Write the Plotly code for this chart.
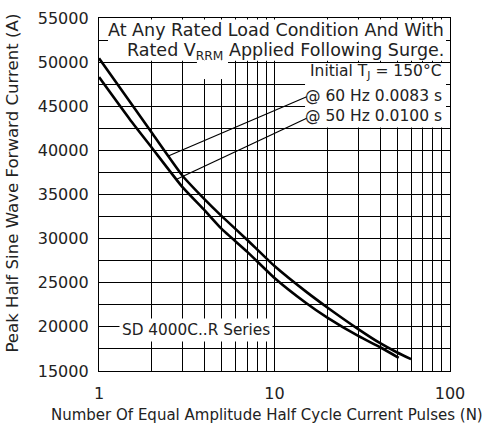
import plotly.graph_objects as go

# ---- data ----
n_60hz = [1, 1.5, 2, 3, 4, 5, 7, 10, 15, 20, 30, 40, 50, 60]
i_60hz = [50430, 45500, 42000, 37100, 34450, 32550, 29850, 26900, 24050, 22200, 19750, 18150, 17100, 16350]

n_50hz = [1, 1.5, 2, 3, 4, 5, 7, 10, 15, 20, 30, 40, 51]
i_50hz = [48300, 43500, 40300, 35800, 33200, 31100, 28500, 25550, 22770, 21050, 18970, 17690, 16500]

x_ticks = [1, 10, 100]
x_minor = [2, 3, 4, 5, 6, 7, 8, 9, 20, 30, 40, 50, 60, 70, 80, 90]
y_ticks = [15000, 20000, 25000, 30000, 35000, 40000, 45000, 50000, 55000]

FONT = "DejaVu Sans"
TXT = "#222"

fig = go.Figure()
for xs, ys in [(n_60hz, i_60hz), (n_50hz, i_50hz)]:
    fig.add_trace(go.Scatter(x=xs, y=ys, mode="lines",
                             line=dict(color="black", width=2.6, shape="spline", smoothing=0.5),
                             showlegend=False, hoverinfo="skip"))

grid = dict(showgrid=True, gridcolor="black", gridwidth=1.3)
fig.update_xaxes(type="log", range=[0, 2], tickvals=x_ticks, ticktext=[str(v) for v in x_ticks],
                 showline=True, linecolor="black", linewidth=1.3, mirror=True, ticks="",
                 zeroline=False, ticklabelstandoff=8, automargin=False,
                 minor=dict(tickvals=x_minor, **grid), tickfont=dict(family=FONT, size=16, color=TXT), **grid)
fig.update_yaxes(range=[15000, 55000], tickvals=y_ticks, tickformat="d",
                 showline=True, linecolor="black", linewidth=1.3, mirror=True, ticks="",
                 zeroline=False, ticklabelstandoff=6, automargin=False,
                 minor=dict(dtick=2500, **grid), tickfont=dict(family=FONT, size=16, color=TXT), **grid)

# white areas behind labels (cover grid)
rects = [
    (0.0256, 0.9886, 0.929, 0.996),
    (0.0826, 0.9886, 0.879, 0.929),
    (0.279, 0.3675, 0.827, 0.879),
    (0.587, 0.9886, 0.69, 0.8725),
]
for x0, x1, y0, y1 in rects:
    fig.add_shape(type="rect", xref="paper", yref="paper", x0=x0, x1=x1, y0=y0, y1=y1,
                  fillcolor="white", line=dict(width=0), layer="above")

# leader lines
for (x0, y0, x1, y1) in [(0.5917, 0.777, 0.1974, 0.609), (0.5917, 0.716, 0.2214, 0.543)]:
    fig.add_shape(type="line", xref="paper", yref="paper", x0=x0, y0=y0, x1=x1, y1=y1,
                  line=dict(color="black", width=1.2), layer="above")

def ann(text, x, y, size, xanchor="right", yanchor="middle", **kw):
    fig.add_annotation(text=text, x=x, y=y, xref="paper", yref="paper", showarrow=False,
                       xanchor=xanchor, yanchor=yanchor, font=dict(family=FONT, size=size, color=TXT), **kw)

ann("At Any Rated Load Condition And With", 0.9886, 0.966, 17.5)
ann("Rated V<sub>RRM</sub> Applied Following Surge.", 0.9886, 0.906, 17.5)
ann("Initial T<sub>J</sub> = 150°C", 0.984, 0.846, 15.5)
ann("@ 60 Hz 0.0083 s", 0.984, 0.779, 15.5)
ann("@ 50 Hz 0.0100 s", 0.984, 0.723, 15.5)
ann("SD 4000C..R Series", 0.2764, 0.116, 15.3, xanchor="center", bgcolor="white", borderpad=2)

ann("Number Of Equal Amplitude Half Cycle Current Pulses (N)", 0.4786, -0.1246, 15, xanchor="center")
ann("Peak Half Sine Wave Forward Current (A)", -0.245, 0.531, 16.6, xanchor="center", textangle=-90)

fig.update_layout(width=488, height=432, margin=dict(l=99, r=38, t=18, b=61),
                  paper_bgcolor="white", plot_bgcolor="white")
fig.write_html("out.html", config={"displayModeBar": False},
               post_script="document.body.style.margin='0';document.body.style.overflow='hidden';")
